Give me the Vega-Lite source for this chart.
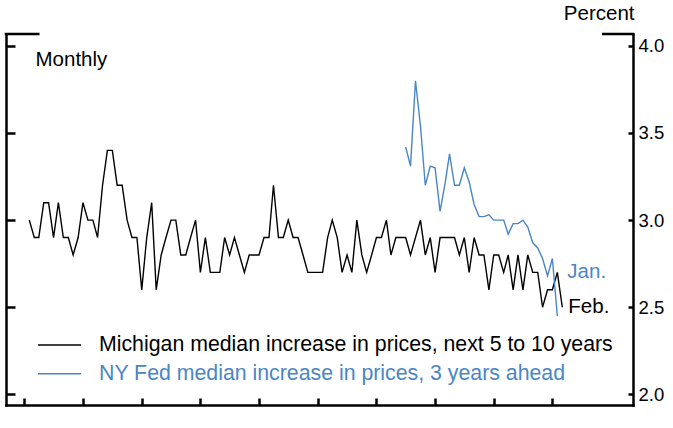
{
  "$schema": "https://vega.github.io/schema/vega-lite/v6.json",
  "width": 627,
  "height": 371,
  "autosize": {"type": "none"},
  "padding": {"left": 6, "top": 34, "right": 40, "bottom": 23},
  "background": "white",
  "config": {"view": {"stroke": null}, "font": "Liberation Sans"},
  "data": {"values": [
    {"date": "2007-01", "value": 3.0, "series": "Michigan"},
    {"date": "2007-02", "value": 2.9, "series": "Michigan"},
    {"date": "2007-03", "value": 2.9, "series": "Michigan"},
    {"date": "2007-04", "value": 3.1, "series": "Michigan"},
    {"date": "2007-05", "value": 3.1, "series": "Michigan"},
    {"date": "2007-06", "value": 2.9, "series": "Michigan"},
    {"date": "2007-07", "value": 3.1, "series": "Michigan"},
    {"date": "2007-08", "value": 2.9, "series": "Michigan"},
    {"date": "2007-09", "value": 2.9, "series": "Michigan"},
    {"date": "2007-10", "value": 2.8, "series": "Michigan"},
    {"date": "2007-11", "value": 2.9, "series": "Michigan"},
    {"date": "2007-12", "value": 3.1, "series": "Michigan"},
    {"date": "2008-01", "value": 3.0, "series": "Michigan"},
    {"date": "2008-02", "value": 3.0, "series": "Michigan"},
    {"date": "2008-03", "value": 2.9, "series": "Michigan"},
    {"date": "2008-04", "value": 3.2, "series": "Michigan"},
    {"date": "2008-05", "value": 3.4, "series": "Michigan"},
    {"date": "2008-06", "value": 3.4, "series": "Michigan"},
    {"date": "2008-07", "value": 3.2, "series": "Michigan"},
    {"date": "2008-08", "value": 3.2, "series": "Michigan"},
    {"date": "2008-09", "value": 3.0, "series": "Michigan"},
    {"date": "2008-10", "value": 2.9, "series": "Michigan"},
    {"date": "2008-11", "value": 2.9, "series": "Michigan"},
    {"date": "2008-12", "value": 2.6, "series": "Michigan"},
    {"date": "2009-01", "value": 2.9, "series": "Michigan"},
    {"date": "2009-02", "value": 3.1, "series": "Michigan"},
    {"date": "2009-03", "value": 2.6, "series": "Michigan"},
    {"date": "2009-04", "value": 2.8, "series": "Michigan"},
    {"date": "2009-05", "value": 2.9, "series": "Michigan"},
    {"date": "2009-06", "value": 3.0, "series": "Michigan"},
    {"date": "2009-07", "value": 3.0, "series": "Michigan"},
    {"date": "2009-08", "value": 2.8, "series": "Michigan"},
    {"date": "2009-09", "value": 2.8, "series": "Michigan"},
    {"date": "2009-10", "value": 2.9, "series": "Michigan"},
    {"date": "2009-11", "value": 3.0, "series": "Michigan"},
    {"date": "2009-12", "value": 2.7, "series": "Michigan"},
    {"date": "2010-01", "value": 2.9, "series": "Michigan"},
    {"date": "2010-02", "value": 2.7, "series": "Michigan"},
    {"date": "2010-03", "value": 2.7, "series": "Michigan"},
    {"date": "2010-04", "value": 2.7, "series": "Michigan"},
    {"date": "2010-05", "value": 2.9, "series": "Michigan"},
    {"date": "2010-06", "value": 2.8, "series": "Michigan"},
    {"date": "2010-07", "value": 2.9, "series": "Michigan"},
    {"date": "2010-08", "value": 2.8, "series": "Michigan"},
    {"date": "2010-09", "value": 2.7, "series": "Michigan"},
    {"date": "2010-10", "value": 2.8, "series": "Michigan"},
    {"date": "2010-11", "value": 2.8, "series": "Michigan"},
    {"date": "2010-12", "value": 2.8, "series": "Michigan"},
    {"date": "2011-01", "value": 2.9, "series": "Michigan"},
    {"date": "2011-02", "value": 2.9, "series": "Michigan"},
    {"date": "2011-03", "value": 3.2, "series": "Michigan"},
    {"date": "2011-04", "value": 2.9, "series": "Michigan"},
    {"date": "2011-05", "value": 2.9, "series": "Michigan"},
    {"date": "2011-06", "value": 3.0, "series": "Michigan"},
    {"date": "2011-07", "value": 2.9, "series": "Michigan"},
    {"date": "2011-08", "value": 2.9, "series": "Michigan"},
    {"date": "2011-09", "value": 2.8, "series": "Michigan"},
    {"date": "2011-10", "value": 2.7, "series": "Michigan"},
    {"date": "2011-11", "value": 2.7, "series": "Michigan"},
    {"date": "2011-12", "value": 2.7, "series": "Michigan"},
    {"date": "2012-01", "value": 2.7, "series": "Michigan"},
    {"date": "2012-02", "value": 2.9, "series": "Michigan"},
    {"date": "2012-03", "value": 3.0, "series": "Michigan"},
    {"date": "2012-04", "value": 2.9, "series": "Michigan"},
    {"date": "2012-05", "value": 2.7, "series": "Michigan"},
    {"date": "2012-06", "value": 2.8, "series": "Michigan"},
    {"date": "2012-07", "value": 2.7, "series": "Michigan"},
    {"date": "2012-08", "value": 3.0, "series": "Michigan"},
    {"date": "2012-09", "value": 2.8, "series": "Michigan"},
    {"date": "2012-10", "value": 2.7, "series": "Michigan"},
    {"date": "2012-11", "value": 2.8, "series": "Michigan"},
    {"date": "2012-12", "value": 2.9, "series": "Michigan"},
    {"date": "2013-01", "value": 2.9, "series": "Michigan"},
    {"date": "2013-02", "value": 3.0, "series": "Michigan"},
    {"date": "2013-03", "value": 2.8, "series": "Michigan"},
    {"date": "2013-04", "value": 2.9, "series": "Michigan"},
    {"date": "2013-05", "value": 2.9, "series": "Michigan"},
    {"date": "2013-06", "value": 2.9, "series": "Michigan"},
    {"date": "2013-07", "value": 2.8, "series": "Michigan"},
    {"date": "2013-08", "value": 2.9, "series": "Michigan"},
    {"date": "2013-09", "value": 3.0, "series": "Michigan"},
    {"date": "2013-10", "value": 2.8, "series": "Michigan"},
    {"date": "2013-11", "value": 2.9, "series": "Michigan"},
    {"date": "2013-12", "value": 2.7, "series": "Michigan"},
    {"date": "2014-01", "value": 2.9, "series": "Michigan"},
    {"date": "2014-02", "value": 2.9, "series": "Michigan"},
    {"date": "2014-03", "value": 2.9, "series": "Michigan"},
    {"date": "2014-04", "value": 2.9, "series": "Michigan"},
    {"date": "2014-05", "value": 2.8, "series": "Michigan"},
    {"date": "2014-06", "value": 2.9, "series": "Michigan"},
    {"date": "2014-07", "value": 2.7, "series": "Michigan"},
    {"date": "2014-08", "value": 2.9, "series": "Michigan"},
    {"date": "2014-09", "value": 2.8, "series": "Michigan"},
    {"date": "2014-10", "value": 2.8, "series": "Michigan"},
    {"date": "2014-11", "value": 2.6, "series": "Michigan"},
    {"date": "2014-12", "value": 2.8, "series": "Michigan"},
    {"date": "2015-01", "value": 2.8, "series": "Michigan"},
    {"date": "2015-02", "value": 2.7, "series": "Michigan"},
    {"date": "2015-03", "value": 2.8, "series": "Michigan"},
    {"date": "2015-04", "value": 2.6, "series": "Michigan"},
    {"date": "2015-05", "value": 2.8, "series": "Michigan"},
    {"date": "2015-06", "value": 2.6, "series": "Michigan"},
    {"date": "2015-07", "value": 2.8, "series": "Michigan"},
    {"date": "2015-08", "value": 2.7, "series": "Michigan"},
    {"date": "2015-09", "value": 2.7, "series": "Michigan"},
    {"date": "2015-10", "value": 2.5, "series": "Michigan"},
    {"date": "2015-11", "value": 2.6, "series": "Michigan"},
    {"date": "2015-12", "value": 2.6, "series": "Michigan"},
    {"date": "2016-01", "value": 2.7, "series": "Michigan"},
    {"date": "2016-02", "value": 2.5, "series": "Michigan"},
    {"date": "2013-06", "value": 3.42, "series": "NY Fed"},
    {"date": "2013-07", "value": 3.31, "series": "NY Fed"},
    {"date": "2013-08", "value": 3.80, "series": "NY Fed"},
    {"date": "2013-09", "value": 3.54, "series": "NY Fed"},
    {"date": "2013-10", "value": 3.20, "series": "NY Fed"},
    {"date": "2013-11", "value": 3.31, "series": "NY Fed"},
    {"date": "2013-12", "value": 3.30, "series": "NY Fed"},
    {"date": "2014-01", "value": 3.05, "series": "NY Fed"},
    {"date": "2014-02", "value": 3.21, "series": "NY Fed"},
    {"date": "2014-03", "value": 3.38, "series": "NY Fed"},
    {"date": "2014-04", "value": 3.20, "series": "NY Fed"},
    {"date": "2014-05", "value": 3.20, "series": "NY Fed"},
    {"date": "2014-06", "value": 3.30, "series": "NY Fed"},
    {"date": "2014-07", "value": 3.22, "series": "NY Fed"},
    {"date": "2014-08", "value": 3.09, "series": "NY Fed"},
    {"date": "2014-09", "value": 3.02, "series": "NY Fed"},
    {"date": "2014-10", "value": 3.02, "series": "NY Fed"},
    {"date": "2014-11", "value": 3.03, "series": "NY Fed"},
    {"date": "2014-12", "value": 3.00, "series": "NY Fed"},
    {"date": "2015-01", "value": 3.00, "series": "NY Fed"},
    {"date": "2015-02", "value": 3.00, "series": "NY Fed"},
    {"date": "2015-03", "value": 2.92, "series": "NY Fed"},
    {"date": "2015-04", "value": 2.98, "series": "NY Fed"},
    {"date": "2015-05", "value": 2.98, "series": "NY Fed"},
    {"date": "2015-06", "value": 3.00, "series": "NY Fed"},
    {"date": "2015-07", "value": 2.96, "series": "NY Fed"},
    {"date": "2015-08", "value": 2.87, "series": "NY Fed"},
    {"date": "2015-09", "value": 2.84, "series": "NY Fed"},
    {"date": "2015-10", "value": 2.78, "series": "NY Fed"},
    {"date": "2015-11", "value": 2.68, "series": "NY Fed"},
    {"date": "2015-12", "value": 2.78, "series": "NY Fed"},
    {"date": "2016-01", "value": 2.45, "series": "NY Fed"}
  ]},
  "layer": [
    {
      "mark": {"type": "line", "strokeWidth": 1.4},
      "encoding": {
        "x": {
          "field": "date",
          "type": "temporal",
          "scale": {
            "type": "utc",
            "domain": [
              {"year": 2006, "month": 8, "date": 9, "utc": true},
              {"year": 2017, "month": 4, "date": 16, "utc": true}
            ]
          },
          "axis": {
            "orient": "bottom",
            "values": [
              {"year": 2006, "month": 12, "date": 1, "utc": true},
              {"year": 2007, "month": 12, "date": 1, "utc": true},
              {"year": 2008, "month": 12, "date": 1, "utc": true},
              {"year": 2009, "month": 12, "date": 1, "utc": true},
              {"year": 2010, "month": 12, "date": 1, "utc": true},
              {"year": 2011, "month": 12, "date": 1, "utc": true},
              {"year": 2012, "month": 12, "date": 1, "utc": true},
              {"year": 2013, "month": 12, "date": 1, "utc": true},
              {"year": 2014, "month": 12, "date": 1, "utc": true},
              {"year": 2015, "month": 12, "date": 1, "utc": true}
            ],
            "labels": false,
            "title": null,
            "grid": false,
            "tickSize": -7,
            "tickWidth": 2.5,
            "tickColor": "black",
            "domainColor": "black",
            "domainWidth": 2.5,
            "domainCap": "square"
          }
        },
        "y": {
          "field": "value",
          "type": "quantitative",
          "scale": {"domain": [1.939, 4.068], "nice": false, "zero": false},
          "axis": {
            "orient": "left",
            "values": [2, 2.5, 3, 3.5, 4],
            "labels": false,
            "grid": false,
            "tickSize": -9,
            "tickWidth": 2.5,
            "tickColor": "black",
            "domainColor": "black",
            "domainWidth": 2.5,
            "domainCap": "square",
            "title": "Monthly",
            "titleAngle": 0,
            "titleX": 29,
            "titleY": 31,
            "titleAlign": "left",
            "titleBaseline": "alphabetic",
            "titleFont": "Liberation Sans",
            "titleFontSize": 20.5,
            "titleFontWeight": "normal",
            "titleColor": "black"
          }
        },
        "color": {
          "field": "series",
          "type": "nominal",
          "scale": {"domain": ["Michigan", "NY Fed"], "range": ["#000000", "#4a86c5"]},
          "legend": {
            "orient": "none",
            "legendX": 31,
            "legendY": 288,
            "title": null,
            "padding": 0,
            "symbolType": "stroke",
            "symbolSize": 1849,
            "symbolStrokeWidth": 1.4,
            "labelFont": "Liberation Sans",
            "labelFontSize": 21.3,
            "labelOffset": 17,
            "labelLimit": 700,
            "rowPadding": -17,
            "labelExpr": "datum.value == 'Michigan' ? 'Michigan median increase in prices, next 5 to 10 years' : 'NY Fed median increase in prices, 3 years ahead'",
            "encode": {
              "symbols": {"update": {"y": {"signal": "23 - 5.3 * datum.index"}}},
              "labels": {"update": {
                "y": {"signal": "23 - 5.3 * datum.index"},
                "fill": {"signal": "datum.value == 'NY Fed' ? '#4a86c5' : '#000000'"}
              }}
            }
          }
        }
      }
    },
    {
      "data": {"values": [{}]},
      "mark": {"type": "text", "align": "left", "baseline": "middle", "dx": 10, "fontSize": 20.5, "font": "Liberation Sans", "color": "#4a86c5"},
      "encoding": {
        "x": {"datum": {"year": 2016, "month": 1, "date": 1, "utc": true}, "type": "temporal"},
        "y": {
          "datum": 2.7,
          "type": "quantitative",
          "axis": {
            "orient": "right",
            "values": [2, 2.5, 3, 3.5, 4],
            "format": ".1f",
            "grid": false,
            "tickSize": -5,
            "tickWidth": 2.5,
            "tickColor": "black",
            "domainColor": "black",
            "domainWidth": 2.5,
            "domainCap": "square",
            "labelFont": "Liberation Sans",
            "labelFontSize": 18.5,
            "labelColor": "black",
            "labelPadding": 10,
            "title": "Percent",
            "titleAngle": 0,
            "titleX": 1,
            "titleY": -15,
            "titleAlign": "right",
            "titleBaseline": "alphabetic",
            "titleFont": "Liberation Sans",
            "titleFontSize": 20.5,
            "titleFontWeight": "normal",
            "titleColor": "black"
          }
        },
        "text": {"value": "Jan."}
      }
    },
    {
      "data": {"values": [{}]},
      "mark": {"type": "text", "align": "left", "baseline": "middle", "dx": 6, "fontSize": 20.5, "font": "Liberation Sans", "color": "#000000"},
      "encoding": {
        "x": {"datum": {"year": 2016, "month": 2, "date": 1, "utc": true}, "type": "temporal"},
        "y": {"datum": 2.5, "type": "quantitative", "axis": null},
        "text": {"value": "Feb."}
      }
    },
    {
      "data": {"values": [{}]},
      "mark": {"type": "rule", "strokeWidth": 2.5, "color": "black", "strokeCap": "square"},
      "encoding": {
        "x": {"datum": {"year": 2006, "month": 8, "date": 9, "utc": true}, "type": "temporal"},
        "x2": {"datum": {"year": 2007, "month": 2, "date": 26, "utc": true}},
        "y": {"datum": 4.068, "type": "quantitative", "axis": null}
      }
    },
    {
      "data": {"values": [{}]},
      "mark": {"type": "rule", "strokeWidth": 2.5, "color": "black", "strokeCap": "square"},
      "encoding": {
        "x": {"datum": {"year": 2016, "month": 10, "date": 13, "utc": true}, "type": "temporal"},
        "x2": {"datum": {"year": 2017, "month": 4, "date": 16, "utc": true}},
        "y": {"datum": 4.068, "type": "quantitative", "axis": null}
      }
    }
  ],
  "resolve": {"axis": {"y": "independent"}}
}
